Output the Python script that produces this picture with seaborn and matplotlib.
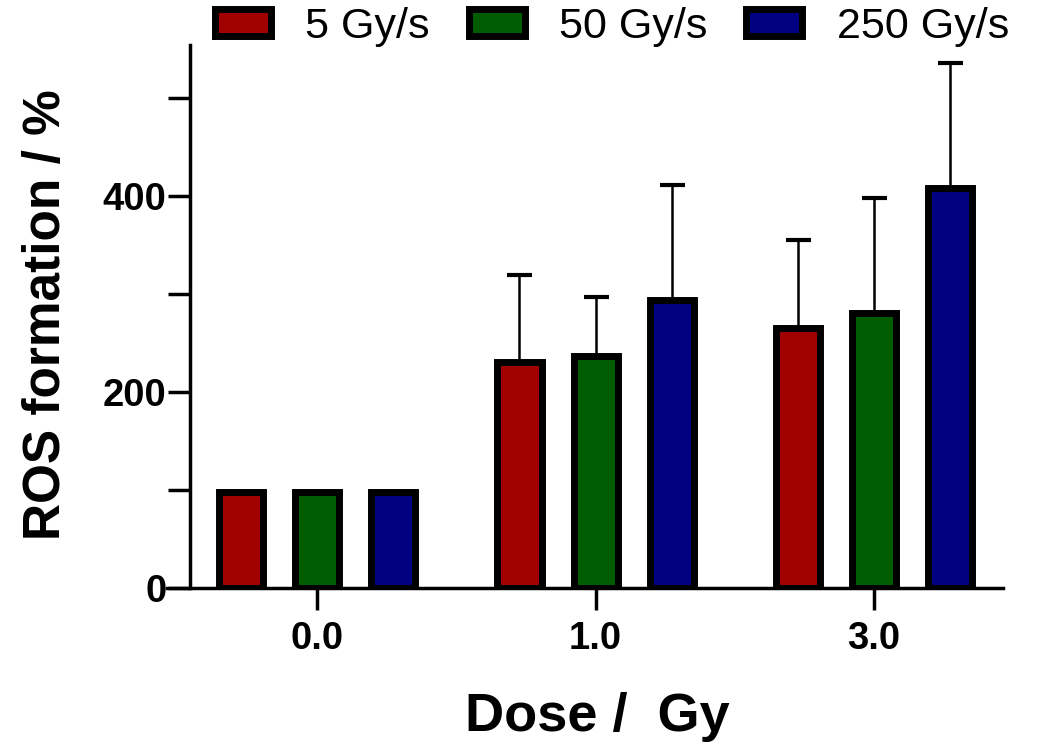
import pandas as pd
import matplotlib
matplotlib.use('Agg')
import matplotlib.pyplot as plt
from matplotlib.ticker import MultipleLocator
import seaborn as sns

# datos
doses = ['0.0', '1.0', '3.0']
rates = ['5 Gy/s', '50 Gy/s', '250 Gy/s']
ros_5 = [98, 231, 265]
ros_50 = [98, 237, 281]
ros_250 = [98, 294, 408]
sd_5 = [0, 88, 90]
sd_50 = [0, 60, 117]
sd_250 = [0, 117, 128]
colores = ['#A00000', '#005C00', '#000080']

df = pd.DataFrame({
    'dose': doses * 3,
    'rate': [r for r in rates for _ in doses],
    'ros': ros_5 + ros_50 + ros_250,
    'sd': sd_5 + sd_50 + sd_250,
})

sns.set_theme(style="ticks")
plt.rcParams['font.family'] = ['Liberation Sans', 'DejaVu Sans']
plt.rcParams['text.color'] = 'black'
plt.rcParams['axes.labelcolor'] = 'black'
plt.rcParams['xtick.color'] = 'black'
plt.rcParams['ytick.color'] = 'black'

fig = plt.figure(figsize=(10.4, 7.44), dpi=100)
ax = fig.add_axes([167 / 1040, 1 - 588 / 744, (1003 - 167) / 1040, (588 - 45) / 744])

sns.barplot(data=df, x='dose', y='ros', hue='rate', order=doses, hue_order=rates,
            palette=colores, saturation=1, errorbar=None, width=0.82, gap=0.42,
            edgecolor='black', linewidth=5, ax=ax, zorder=3)

# barras de error (solo hacia arriba)
for cont, rate in zip(ax.containers, rates):
    sub = df[df['rate'] == rate].set_index('dose').loc[doses]
    xs = [p.get_x() + p.get_width() / 2 for p in cont.patches]
    ys = [p.get_height() for p in cont.patches]
    errs = sub['sd'].tolist()
    xs_e = [x for x, e in zip(xs, errs) if e > 0]
    ys_e = [y for y, e in zip(ys, errs) if e > 0]
    es = [e for e in errs if e > 0]
    ax.errorbar(xs_e, ys_e, yerr=[[0] * len(es), es], fmt='none', ecolor='black',
                elinewidth=1.8, capsize=9, capthick=3, zorder=2)

ax.set_xlim(-0.539, 2.463)
ax.set_ylim(0, 554)
ax.spines['left'].set_position(('data', -0.456))
ax.spines['top'].set_visible(False)
ax.spines['right'].set_visible(False)
for s in ['left', 'bottom']:
    ax.spines[s].set_linewidth(2.5)
    ax.spines[s].set_color('black')

ax.yaxis.set_major_locator(MultipleLocator(200))
ax.yaxis.set_minor_locator(MultipleLocator(100))
ax.tick_params(axis='both', which='both', length=16, width=2.5, color='black')
ax.tick_params(axis='y', which='both', pad=1)
ax.tick_params(axis='x', pad=8)
for lab in ax.get_xticklabels() + ax.get_yticklabels():
    lab.set_fontsize(27.5)
    lab.set_fontweight('bold')

ax.set_xlabel('Dose /  Gy', fontsize=39, fontweight='bold', labelpad=25)
ax.xaxis.label.set_x((597 - 167) / 836)
ax.set_ylabel('ROS formation / %', fontsize=37, fontweight='bold')
ax.yaxis.set_label_coords((71 - 167) / 836, (588 - 315) / 543)

handles, labels = ax.get_legend_handles_labels()
ax.legend(handles, labels, loc='center', bbox_to_anchor=(612 / 1040, 1 - 27 / 744),
          bbox_transform=fig.transFigure, ncol=3, frameon=False, fontsize=31,
          handlelength=1.3, handleheight=0.58, handletextpad=0.8, columnspacing=0.9)

plt.savefig('out.png', dpi=100)
plt.close()
